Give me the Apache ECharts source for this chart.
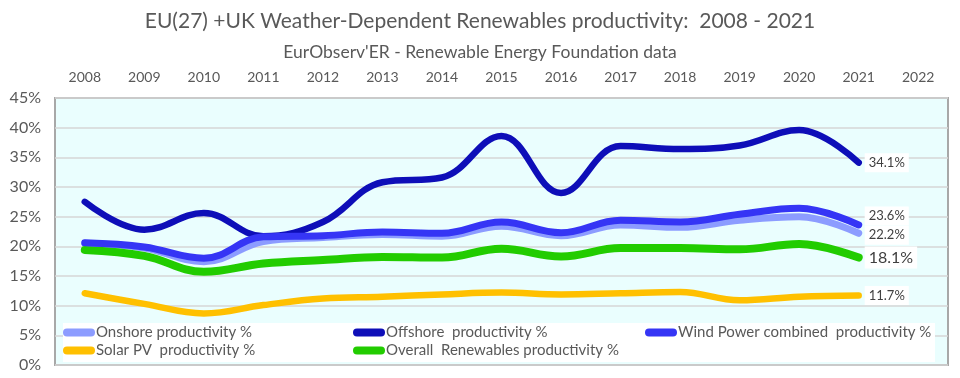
<!DOCTYPE html>
<html><head><meta charset="utf-8">
<script src="https://cdn.jsdelivr.net/npm/echarts@6/dist/echarts.min.js"></script>
<style>html,body{margin:0;padding:0;background:#fff}#c{width:960px;height:378px}</style>
</head><body><div id="c"></div>
<script>
var years = ['2008','2009','2010','2011','2012','2013','2014','2015','2016','2017','2018','2019','2020','2021','2022'];
var yTicks = [0,5,10,15,20,25,30,35,40,45];
var onshore  = [20.5,19.7,17.4,20.8,21.5,22.0,21.7,23.4,21.8,23.6,23.2,24.4,25.0,22.2];
var offshore = [27.5,22.8,25.6,21.7,24.1,30.8,31.6,38.6,29.0,36.9,36.4,37.0,39.6,34.1];
var wind     = [20.6,19.9,18.0,21.6,21.8,22.4,22.2,24.1,22.3,24.4,24.1,25.4,26.4,23.6];
var solar    = [12.1,10.3,8.7,10.1,11.2,11.5,11.9,12.2,11.9,12.1,12.3,10.9,11.5,11.7];
var overall  = [19.4,18.4,15.7,17.1,17.7,18.2,18.1,19.6,18.3,19.7,19.7,19.5,20.4,18.1];
var names = ['Onshore productivity %','Offshore  productivity %','Wind Power combined  productivity %','Solar PV  productivity %','Overall  Renewables productivity %'];

var FONT = 'Lato';
var TXT = '#595959';
var chart = echarts.init(document.getElementById('c'));
function mk(name, data, color, width, z, lblSize, lblOffset) {
  return {
    name: name, type: 'line', data: data, smooth: 0.4, symbol: 'none', z: z,
    lineStyle: {color: color, width: width, cap: 'round', join: 'round'},
    itemStyle: {color: color},
    endLabel: {show: true, formatter: function(p){return p.value.toFixed(1)+'%';},
      color: '#404040', fontFamily: FONT, fontSize: lblSize, backgroundColor: '#fff',
      padding: [3,4,3,4], distance: 6, offset: lblOffset || [0,0]}
  };
}
var legIcon = 'path://M4,0 H28 A4,4 0 0 1 28,8 H4 A4,4 0 0 1 4,0 Z';
var legPos = [[63,325],[353,325],[645,325],[63,343],[353,343]];
var legends = names.map(function(n,i){
  return {data:[n], left: legPos[i][0], top: legPos[i][1], icon: legIcon, itemWidth: 32, itemHeight: 9,
    itemGap: 0, padding: 0, textStyle: {color: TXT, fontFamily: FONT, fontSize: 15, padding: [0,0,0,-4]}, selectedMode: false};
});
chart.setOption({
  backgroundColor: '#fff',
  animation: false,
  title: [
    {text: 'EU(27) +UK Weather-Dependent Renewables productivity:  2008 - 2021', left: 'center', top: 6,
     textStyle: {fontFamily: FONT, fontSize: 21, fontWeight: 'normal', color: TXT}},
    {text: "EurObserv'ER - Renewable Energy Foundation data", left: 'center', top: 38,
     textStyle: {fontFamily: FONT, fontSize: 17.5, fontWeight: 'normal', color: TXT}}
  ],
  grid: {left: 55, right: 12, top: 98, bottom: 13, show: true, backgroundColor: '#EAFEFE', borderColor: '#A8A8A8', borderWidth: 2},
  graphic: [{type: 'rect', shape: {x: 63, y: 323, width: 872, height: 39}, style: {fill: '#fff'}, z: 3}],
  legend: legends,
  xAxis: {type: 'category', data: years, position: 'top', boundaryGap: true,
    axisLine: {show: false}, axisTick: {show: false},
    axisLabel: {color: TXT, fontFamily: FONT, fontSize: 14, margin: 14}},
  yAxis: {type: 'value', min: 0, max: 45, interval: 5,
    axisLine: {show: false}, axisTick: {show: false},
    axisLabel: {color: TXT, fontFamily: FONT, fontSize: 16, margin: 14, formatter: function(v){return yTicks.indexOf(v)>=0 ? v+'%' : '';}},
    splitLine: {lineStyle: {color: '#D6D6D6', width: 1.5}}},
  series: [
    mk(names[0], onshore, '#8C9CFF', 7, 4, 13, [0,2]),
    mk(names[1], offshore, '#0E0EB8', 6.5, 5, 13),
    mk(names[2], wind, '#3535F5', 7, 6, 13, [0,-9]),
    mk(names[3], solar, '#FFC000', 6.5, 4, 13),
    mk(names[4], overall, '#22CC00', 8, 4, 16)
  ]
});
</script></body></html>
